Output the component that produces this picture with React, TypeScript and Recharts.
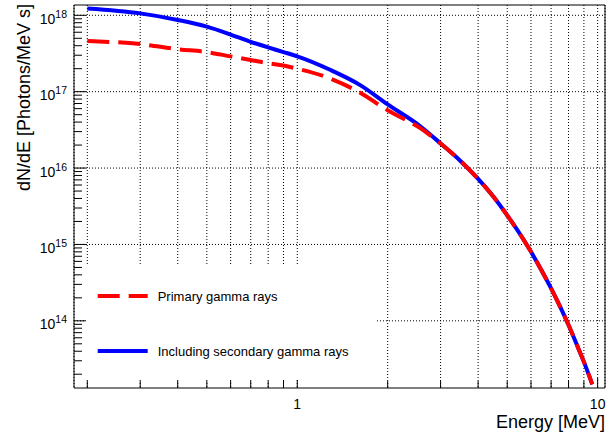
import React from 'react';
import { LineChart, Line, XAxis, YAxis, CartesianGrid, Legend, ReferenceLine } from 'recharts';

// values (MeV, photons / MeV s)
const energy = [0.2, 0.3, 0.4, 0.5, 0.6, 0.7, 0.8, 0.9, 1.0, 1.28, 1.62, 2.0, 2.56, 3.0, 3.5, 4.0, 4.5, 5.0, 5.5, 6.0, 6.5, 7.0, 7.5, 8.0, 8.5, 9.0, 9.6];
const primary = [4.6e17, 4.2e17, 3.6e17, 3.3e17, 2.9e17, 2.6e17, 2.35e17, 2.2e17, 2.0e17, 1.5e17, 9.7e16, 5.7e16, 3.35e16, 2.1e16, 1.23e16, 7.2e15, 4.2e15, 2.4e15, 1.39e15, 8.0e14, 4.6e14, 2.66e14, 1.53e14, 8.8e13, 5.0e13, 2.9e13, 1.47e13];
const withSecondary = [1.23e18, 1.06e18, 8.7e17, 7.1e17, 5.6e17, 4.5e17, 3.8e17, 3.3e17, 2.9e17, 1.95e17, 1.22e17, 6.8e16, 3.55e16, 2.1e16, 1.23e16, 7.2e15, 4.2e15, 2.4e15, 1.39e15, 8.0e14, 4.6e14, 2.66e14, 1.53e14, 8.8e13, 5.0e13, 2.9e13, 1.47e13];

const xTicks = [0.2, 0.3, 0.4, 0.5, 0.6, 0.7, 0.8, 0.9, 1, 2, 3, 4, 5, 6, 7, 8, 9, 10];
const xLabelled = [1, 10];
const yExponents = [13, 14, 15, 16, 17, 18];
const yMantissas = [1, 2, 3, 4, 5, 6, 7, 8, 9];
const yDecades = [1e14, 1e15, 1e16, 1e17, 1e18];

const legendItems = [
  { name: 'Primary gamma rays', color: '#ff0000', dash: '22 9' },
  { name: 'Including secondary gamma rays', color: '#0000ff', dash: undefined },
];

const X_MIN = 0.1806;
const X_MAX = 10.58;
const Y_MIN = 1.32e13;
const Y_MAX = 1.364e18;

const FONT = '"Liberation Sans", Arial, Helvetica, sans-serif';

const data = energy.map((e, i) => ({ energy: e, primary: primary[i], total: withSecondary[i] }));

const yTicks = yExponents
  .flatMap(ex => yMantissas.map(m => m * Math.pow(10, ex)))
  .filter(v => v >= Y_MIN && v <= Y_MAX);

const isDecade = (v: number) => {
  const ex = Math.round(Math.log10(v));
  return Math.abs(v / Math.pow(10, ex) - 1) < 1e-6;
};

const XTick = (props: any) => {
  const { x, y, payload } = props;
  const v = payload.value;
  const major = xLabelled.includes(v);
  return (
    <g>
      <line x1={x} x2={x} y1={y} y2={y - (major ? 10 : 7)} stroke="#000" />
      {major && (
        <text x={x} y={y + 21} textAnchor="middle" fontSize={14} fontFamily={FONT} fill="#000">
          {v}
        </text>
      )}
    </g>
  );
};

const YTick = (props: any) => {
  const { x, y, payload } = props;
  const v = payload.value;
  const major = isDecade(v);
  return (
    <g>
      <line x1={x} x2={x + (major ? 12 : 8)} y1={y} y2={y} stroke="#000" />
      {major && (
        <text x={x - 7} y={y + 8.5} textAnchor="end" fontSize={14} fontFamily={FONT} fill="#000">
          10
          <tspan dy={-6} fontSize={10.5}>{Math.round(Math.log10(v))}</tspan>
        </text>
      )}
    </g>
  );
};

const XTitle = (props: any) => {
  const vb = props.viewBox || { x: 74, y: 388, width: 531 };
  return (
    <text x={vb.x + vb.width} y={vb.y + 40} textAnchor="end" fontSize={18} fontFamily={FONT} fill="#000">
      Energy [MeV]
    </text>
  );
};

const YTitle = (props: any) => {
  const vb = props.viewBox || { x: 0, y: 5 };
  const tx = vb.x + 30;
  const ty = vb.y - 1;
  return (
    <text x={tx} y={ty} transform={`rotate(-90 ${tx} ${ty})`} textAnchor="end" fontSize={18} fontFamily={FONT} fill="#000">
      dN/dE [Photons/MeV s]
    </text>
  );
};

const LegendBox = () => (
  <svg width={289} height={114}>
    {legendItems.map((item, i) => {
      const cy = 30 + i * 55;
      return (
        <g key={item.name}>
          <line x1={11.7} x2={61.7} y1={cy} y2={cy} stroke={item.color} strokeWidth={4} strokeDasharray={item.dash} />
          <text x={71.7} y={cy + 4.5} fontSize={13} fontFamily={FONT} fill="#000">
            {item.name}
          </text>
        </g>
      );
    })}
  </svg>
);

export default function App() {
  return (
    <div style={{ position: 'absolute', left: 0, top: 0, background: '#fff' }}>
      <LineChart width={613} height={436} data={data} margin={{ top: 5, right: 8, bottom: 0, left: 0 }}>
        <CartesianGrid stroke="#000" strokeDasharray="1 2" horizontalValues={yDecades} />
        <XAxis
          dataKey="energy"
          type="number"
          scale="log"
          domain={[X_MIN, X_MAX]}
          allowDataOverflow
          ticks={xTicks}
          interval={0}
          tick={XTick}
          tickLine={false}
          tickSize={0}
          tickMargin={0}
          height={48}
          axisLine={{ stroke: '#000' }}
          label={<XTitle />}
        />
        <YAxis
          type="number"
          scale="log"
          domain={[Y_MIN, Y_MAX]}
          allowDataOverflow
          ticks={yTicks}
          interval={0}
          tick={YTick}
          tickLine={false}
          tickSize={0}
          tickMargin={0}
          width={74}
          axisLine={{ stroke: '#000' }}
          label={<YTitle />}
        />
        <ReferenceLine x={X_MAX} stroke="#000" />
        <ReferenceLine y={Y_MAX} stroke="#000" />
        <Line type="monotone" dataKey="total" stroke="#0000ff" strokeWidth={4} dot={false} isAnimationActive={false} />
        <Line type="monotone" dataKey="primary" stroke="#ff0000" strokeWidth={4} strokeDasharray="22 9" dot={false} isAnimationActive={false} />
        <Legend
          layout="horizontal"
          verticalAlign="middle"
          align="center"
          content={() => <LegendBox />}
          wrapperStyle={{ left: 86, top: 266, width: 289, height: 114, background: '#fff' }}
        />
      </LineChart>
    </div>
  );
}
